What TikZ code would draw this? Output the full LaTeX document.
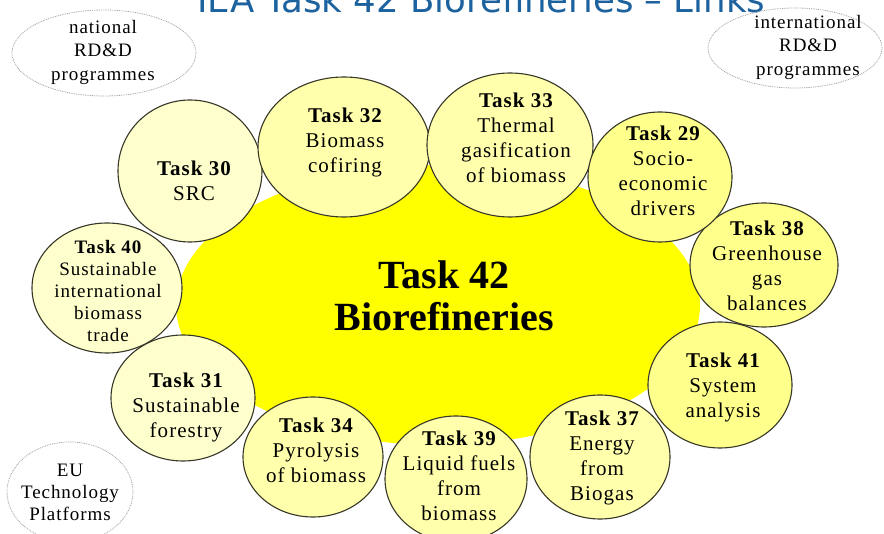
\documentclass[tikz,border=0pt]{standalone}
\usepackage{fontspec}
\usepackage{graphicx}
\setmainfont{Liberation Serif}
\newfontfamily\bodyfont[LetterSpace=5]{Liberation Serif}
\newfontfamily\headfont{DejaVu Sans}
\usetikzlibrary{shapes.geometric}

\definecolor{hubyellow}{RGB}{255,255,0}
\definecolor{palefill}{RGB}{255,255,206}
\definecolor{midfill}{RGB}{255,255,172}
\definecolor{richfill}{RGB}{255,255,140}
\definecolor{rimgray}{RGB}{55,55,40}
\definecolor{dotgray}{RGB}{165,165,165}
\definecolor{titleblue}{RGB}{28,98,158}

\tikzset{
  hub/.style={ellipse, fill=hubyellow, inner sep=0},
  taskcirc/.style={ellipse, draw=rimgray, line width=1.1pt, inner sep=0},
  tasklabel/.style={anchor=north, align=center, inner sep=0,
    font=\bodyfont\fontsize{21}{25}\selectfont},
  smalllabel/.style={anchor=north, align=center, inner sep=0,
    font=\bodyfont\fontsize{19}{22}\selectfont},
  linkoval/.style={ellipse, draw=dotgray, line width=0.8pt,
    dash pattern=on 0.9pt off 0.9pt, inner sep=0},
  linklabel/.style={anchor=north, align=center, inner sep=0,
    font=\bodyfont\fontsize{19}{23.5}\selectfont},
}

\begin{document}
\begin{tikzpicture}[x=1pt,y=-1pt]
  \clip (0,0) rectangle (884,534);
  \fill[white] (0,0) rectangle (884,534);

  % heading, partly above the top edge
  \node[anchor=base west, inner sep=0, text=titleblue] (heading) at (197,13)
    {\resizebox{568pt}{!}{\headfont IEA Task 42 Biorefineries – Links}};

  % outer link ovals
  \node[linkoval, minimum width=184, minimum height=86] (natl) at (104,53) {};
  \node[linklabel] (natltxt) at (103,20) {national\\RD\&D\\programmes};
  \node[linkoval, minimum width=174, minimum height=80] (intl) at (795,48) {};
  \node[linklabel] (intltxt) at (808,15) {international\\RD\&D\\programmes};
  \node[linkoval, minimum width=126, minimum height=100] (eutp) at (70,492) {};
  \node[linklabel, font=\bodyfont\fontsize{19}{22}\selectfont] (eutptxt) at (70,464)
    {EU\\Technology\\Platforms};

  % central task
  \node[hub, minimum width=524, minimum height=280] (hub) at (438,305) {};
  \node[anchor=north, align=center, inner sep=0,
        font=\bfseries\fontsize{40}{42}\selectfont] (hubtxt) at (444,261)
    {Task 42\\Biorefineries};

  % surrounding tasks
  \node[taskcirc, fill=palefill, minimum width=144, minimum height=142] (t30) at (190,171) {};
  \node[tasklabel] (t30txt) at (194,161) {{\bfseries Task 30}\\SRC};

  \node[taskcirc, fill=palefill, minimum width=150, minimum height=130] (t40) at (107,288) {};
  \node[smalllabel] (t40txt) at (108,240)
    {{\bfseries Task 40}\\Sustainable\\international\\biomass\\trade};

  \node[taskcirc, fill=palefill, minimum width=144, minimum height=126] (t31) at (183,398) {};
  \node[tasklabel] (t31txt) at (186,373) {{\bfseries Task 31}\\Sustainable\\forestry};

  \node[taskcirc, fill=midfill, minimum width=140, minimum height=120] (t34) at (313,457) {};
  \node[tasklabel] (t34txt) at (316,418) {{\bfseries Task 34}\\Pyrolysis\\of biomass};

  \node[taskcirc, fill=midfill, minimum width=142, minimum height=126] (t39) at (456,479) {};
  \node[tasklabel] (t39txt) at (459,431) {{\bfseries Task 39}\\Liquid fuels\\from\\biomass};

  \node[taskcirc, fill=midfill, minimum width=140, minimum height=124] (t37) at (600,457) {};
  \node[tasklabel] (t37txt) at (602,411) {{\bfseries Task 37}\\Energy\\from\\Biogas};

  \node[taskcirc, fill=richfill, minimum width=144, minimum height=126] (t41) at (720,385) {};
  \node[tasklabel] (t41txt) at (723,353) {{\bfseries Task 41}\\System\\analysis};

  \node[taskcirc, fill=richfill, minimum width=148, minimum height=124] (t38) at (764,265) {};
  \node[tasklabel] (t38txt) at (767,221) {{\bfseries Task 38}\\Greenhouse\\gas\\balances};

  \node[taskcirc, fill=midfill, minimum width=172, minimum height=140] (t32) at (344,147) {};
  \node[tasklabel] (t32txt) at (345,108) {{\bfseries Task 32}\\Biomass\\cofiring};

  \node[taskcirc, fill=midfill, minimum width=166, minimum height=144] (t33) at (510,145) {};
  \node[tasklabel] (t33txt) at (516,93) {{\bfseries Task 33}\\Thermal\\gasification\\of biomass};

  \node[taskcirc, fill=richfill, minimum width=144, minimum height=130] (t29) at (660,177) {};
  \node[tasklabel] (t29txt) at (663,126) {{\bfseries Task 29}\\Socio-\\economic\\drivers};
\end{tikzpicture}
\end{document}
